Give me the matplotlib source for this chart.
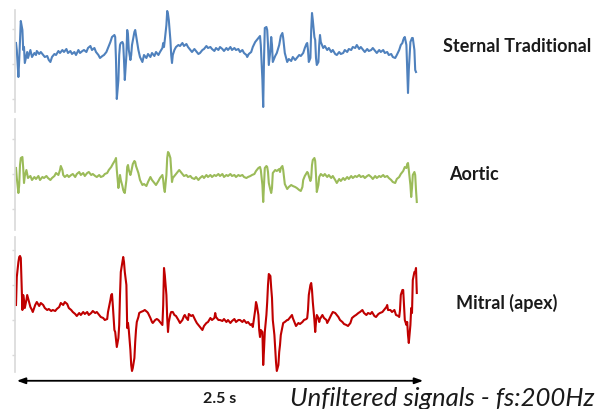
import matplotlib
matplotlib.use("Agg")
import matplotlib.pyplot as plt
import numpy as np

FS = 200  # Hz

# (sample index, amplitude); ticks every 35 units
sternal = [(0,21),(1,14),(3,-13),(4,4),(6,43),(8,34),(9,14),(10,17),(11,1),(14,12),(15,6),(18,14),(20,7),
 (23,11),(25,9),(26,13),(29,10),(31,12),(34,9),(36,7),(39,8),(41,4),(43,2),(45,7),(48,10),(50,9),(53,13),
 (55,11),(58,14),(60,12),(63,15),(65,11),(68,13),(70,10),(73,12),(75,9),(78,14),(80,11),(83,13),(85,14),
 (88,12),(90,16),(93,18),(95,14),(98,16),(100,12),(103,9),(105,6),(108,8),(110,9),(113,12),(115,16),
 (118,22),(120,27),(123,29),(124,27),(125,4),(126,-35),(128,-16),(129,9),(130,19),(131,21),(133,22),
 (134,20),(135,4),(136,-16),(138,9),(139,34),(140,29),(141,14),(143,4),(144,9),(145,19),(148,32),(149,34),
 (150,29),(153,14),(155,7),(158,2),(160,9),(163,6),(165,10),(168,7),(170,11),(173,8),(175,12),(178,9),
 (180,12),(183,16),(184,21),(185,17),(186,24),(188,39),(189,53),(190,50),(191,44),(193,24),(194,9),(195,1),
 (196,9),(198,14),(200,17),(203,19),(205,18),(208,21),(210,18),(213,20),(215,17),(218,14),(220,12),(223,15),
 (225,13),(228,10),(230,11),(233,14),(235,15),(238,18),(240,16),(243,17),(245,15),(248,13),(250,16),(253,14),
 (255,17),(258,15),(260,13),(263,16),(265,14),(268,17),(270,14),(273,16),(275,14),(278,15),(280,12),(283,14),
 (285,11),(288,9),(289,7),(291,10),(294,12),(296,17),(299,22),(301,24),(304,27),(305,28),(306,19),(308,-16),
 (309,-43),(310,4),(311,36),(313,37),(314,34),(315,19),(316,-1),(318,14),(319,27),(320,19),(321,2),(324,8),
 (326,11),(329,19),(331,28),(333,31),(334,26),(336,11),(339,2),(341,5),(344,3),(346,7),(349,4),(351,6),
 (354,9),(356,8),(359,11),(361,16),(363,20),(364,21),(365,14),(366,2),(368,6),(369,34),(370,51),(371,44),
 (373,27),(374,24),(375,6),(376,-1),(378,2),(379,19),(380,29),(381,22),(384,16),(386,18),(389,14),(391,16),
 (394,12),(396,14),(399,10),(401,9),(404,12),(406,10),(409,11),(411,14),(414,12),(416,15),(419,14),(421,17),
 (424,16),(426,19),(429,15),(431,17),(434,14),(436,12),(439,15),(441,13),(444,14),(446,16),(449,13),(451,11),
 (454,14),(456,12),(459,14),(461,11),(464,12),(466,9),(469,10),(471,7),(474,6),(476,9),(479,14),(481,19),
 (483,21),(484,24),(485,26),(486,27),(488,19),(489,-6),(490,-29),(491,-6),(493,22),(494,24),(495,26),
 (496,26),(498,14),(499,-6),(500,-8)]

aortic = [(0,6),(1,-4),(3,-19),(4,-11),(5,9),(6,16),(8,17),(9,6),(10,-9),(11,-2),(13,4),(15,-4),(18,-2),
 (20,-6),(23,-3),(25,-5),(28,-2),(30,-6),(33,-3),(35,-4),(38,-2),(40,-4),(43,-6),(45,-4),(48,-2),(50,1),
 (53,-1),(55,4),(56,8),(58,4),(59,-1),(61,-3),(64,-1),(66,-3),(69,-1),(71,0),(74,-3),(76,0),(79,2),(81,-1),
 (84,1),(86,-2),(89,1),(91,2),(94,-1),(96,0),(99,-2),(101,-3),(104,-1),(106,-3),(109,-2),(111,0),(114,1),
 (116,4),(119,7),(121,10),(124,14),(125,16),(126,4),(128,-14),(129,-8),(130,-1),(131,-6),(133,-12),
 (134,-16),(135,-18),(136,-19),(138,-6),(139,7),(140,9),(141,4),(143,-1),(144,2),(145,6),(146,10),(148,13),
 (149,12),(150,8),(153,1),(155,-6),(158,-11),(160,-10),(163,-12),(165,-8),(168,-3),(170,-6),(173,-9),
 (175,-11),(178,-7),(180,-4),(183,-1),(184,-6),(185,-14),(186,-18),(188,-1),(189,16),(190,22),(191,21),
 (193,16),(194,4),(195,-8),(196,-4),(199,-1),(201,1),(204,4),(205,3),(208,0),(210,-2),(213,-1),(215,-3),
 (218,-2),(220,-4),(223,-5),(225,-3),(228,-6),(230,-4),(233,-2),(235,-4),(238,-1),(240,-3),(243,-1),
 (245,-3),(248,-1),(250,-2),(253,0),(255,-2),(258,0),(260,-3),(263,-1),(265,-2),(268,0),(270,-2),(273,-1),
 (275,-3),(278,-1),(280,-2),(283,-1),(285,-3),(288,-4),(290,-3),(293,-2),(295,-1),(298,0),(300,3),(303,6),
 (305,7),(306,4),(308,-11),(309,-28),(310,-11),(311,6),(313,8),(314,7),(315,2),(316,-9),(318,-16),(319,-19),
 (320,-14),(321,1),(324,4),(326,3),(329,5),(330,2),(331,6),(333,8),(334,4),(335,-3),(336,-10),(339,-15),
 (341,-13),(344,-11),(346,-12),(349,-13),(351,-14),(354,-16),(356,-17),(358,-13),(359,-6),(361,-2),(364,2),
 (365,1),(366,-2),(368,-7),(369,-4),(370,9),(371,14),(373,16),(374,13),(375,-1),(376,-18),(378,-11),
 (379,-3),(381,0),(384,-2),(386,0),(389,-3),(391,-1),(394,-4),(396,-2),(399,-6),(401,-9),(404,-5),(406,-7),
 (409,-4),(411,-6),(414,-3),(416,-5),(419,-2),(421,-4),(424,-2),(426,-3),(429,-1),(431,-3),(434,-2),
 (436,-4),(439,-2),(441,-1),(444,-3),(446,-5),(449,-2),(451,-4),(454,-2),(456,-3),(459,-1),(461,-3),
 (464,-2),(466,-4),(469,-6),(471,-8),(474,-9),(476,-5),(479,-3),(481,0),(484,3),(486,7),(488,6),(489,10),
 (490,11),(491,4),(493,-11),(494,-23),(495,-14),(496,-1),(498,2),(499,-1),(500,-16),(501,-28)]

mitral = [(0,-20),(1,8),(3,23),(4,28),(5,29),(6,27),(8,-25),(9,-10),(10,-15),(11,-23),(13,-15),(14,-10),
 (15,-13),(18,-22),(20,-25),(21,-27),(24,-20),(26,-17),(29,-21),(31,-18),(34,-20),(36,-23),(39,-25),(41,-24),
 (44,-26),(46,-25),(49,-26),(51,-24),(54,-22),(56,-18),(59,-20),(61,-17),(64,-19),(66,-23),(69,-25),(71,-27),
 (74,-29),(76,-31),(79,-28),(81,-30),(84,-27),(86,-29),(89,-27),(91,-30),(94,-28),(96,-26),(99,-28),(101,-27),
 (104,-30),(106,-32),(109,-33),(111,-35),(114,-34),(115,-27),(118,-15),(119,-10),(120,-9),(121,-20),
 (123,-45),(124,-47),(125,-55),(126,-62),(128,-53),(129,-40),(130,-10),(131,13),(133,23),(134,28),(135,23),
 (136,13),(138,0),(139,-43),(140,-38),(141,-45),(143,-65),(144,-80),(145,-86),(146,-83),(148,-73),(149,-57),
 (150,-45),(151,-37),(153,-32),(154,-28),(156,-27),(159,-26),(161,-25),(164,-27),(165,-28),(168,-33),
 (170,-37),(171,-38),(174,-35),(176,-34),(178,-35),(180,-37),(183,-40),(184,-20),(185,17),(186,10),(188,-10),
 (189,-33),(190,-47),(191,-37),(193,-29),(194,-27),(196,-27),(198,-30),(200,-31),(203,-35),(205,-38),
 (208,-35),(210,-31),(211,-30),(213,-33),(215,-35),(216,-29),(219,-31),(221,-30),(224,-35),(226,-38),
 (228,-40),(230,-42),(233,-45),(235,-41),(238,-38),(240,-37),(243,-33),(245,-35),(248,-33),(249,-28),
 (250,-32),(253,-35),(255,-35),(258,-36),(260,-34),(263,-37),(265,-35),(268,-38),(270,-36),(273,-34),
 (275,-37),(278,-35),(280,-35),(283,-37),(285,-35),(288,-38),(290,-37),(293,-40),(295,-39),(296,-42),
 (299,-25),(300,-17),(301,-20),(303,-30),(304,-45),(305,-52),(306,-45),(308,-47),(309,-80),(310,-65),
 (311,-47),(313,-30),(314,-17),(315,0),(316,11),(318,9),(319,-3),(320,-13),(321,-35),(323,-50),(324,-63),
 (325,-77),(326,-86),(328,-80),(329,-67),(330,-60),(331,-50),(334,-38),(336,-37),(339,-35),(340,-35),
 (343,-32),(345,-30),(346,-33),(349,-39),(350,-41),(353,-38),(355,-39),(358,-37),(360,-35),(363,-34),
 (364,-33),(365,-25),(366,-10),(368,0),(369,2),(370,-5),(371,-17),(373,-35),(374,-47),(375,-37),(376,-30),
 (378,-33),(379,-37),(380,-34),(383,-30),(385,-33),(388,-35),(389,-38),(391,-35),(394,-30),(396,-27),
 (399,-28),(401,-30),(403,-32),(405,-35),(408,-37),(410,-39),(413,-40),(415,-41),(418,-38),(420,-33),
 (423,-31),(425,-30),(428,-28),(430,-27),(433,-25),(435,-28),(438,-30),(440,-28),(443,-29),(445,-27),
 (448,-31),(450,-32),(453,-29),(455,-28),(458,-27),(460,-25),(463,-22),(464,-20),(465,-25),(468,-25),
 (470,-27),(473,-25),(475,-30),(478,-31),(479,-32),(480,-25),(481,-10),(483,-5),(484,-5),(485,-20),
 (486,-35),(488,-40),(489,-37),(490,-50),(491,-58),(493,-40),(494,-23),(495,-28),(496,5),(498,13),(499,13),
 (500,17),(501,-8)]

labels = ["Sternal Traditional", "Aortic", "Mitral (apex)"]
colors = ["#4F81BD", "#9BBB59", "#C00000"]
series = [sternal, aortic, mitral]
yticks = [[35, 0, -35], [35, 0, -35], [35, 0, -35, -70]]
ylims = [(-48, 54), (-56, 55), (-87, 48)]
arrow_label = "2.5 s"
footer = "Unfiltered signals - fs:200Hz"
arrow_span = (0.005, 2.545)  # seconds

W, H = 595, 409
fig = plt.figure(figsize=(W / 100, H / 100), dpi=100)
# axes boxes in pixel units (left, top, right, bottom)
boxes = [(15, 10, 420, 112), (15, 119, 420, 230), (15, 237, 420, 372)]
label_pos = [(443, 47), (449, 174), (456, 303)]
label_sizes = [13, 13, 13]

axes = []
for i, (data, col) in enumerate(zip(series, colors)):
    l, t, r, b = boxes[i]
    ax = fig.add_axes([l / W, 1 - b / H, (r - l) / W, (b - t) / H])
    n = np.array([p[0] for p in data])
    v = np.array([p[1] for p in data])
    ax.plot(n / FS, v, color=col, lw=1.5, solid_joinstyle="round")
    ax.set_xlim(-1.25 / FS, 505 / FS)
    ax.set_ylim(*ylims[i])
    ax.set_yticks(yticks[i])
    ax.set_yticklabels([])
    ax.set_xticks([])
    for s in ["top", "right", "bottom"]:
        ax.spines[s].set_visible(False)
    ax.spines["left"].set_color("#D9D9D9")
    ax.spines["left"].set_linewidth(1.2)
    ax.tick_params(axis="y", direction="out", length=2.5, width=1.0, color="#D9D9D9")
    ax.patch.set_alpha(0)
    fig.text(label_pos[i][0] / W, 1 - label_pos[i][1] / H, labels[i],
             family="Lato", weight="bold", fontsize=label_sizes[i], color="#1a1a1a",
             ha="left", va="center")
    axes.append(ax)

axb = axes[-1]
axb.annotate("", xy=(arrow_span[1], -0.065), xytext=(arrow_span[0], -0.065),
             xycoords=("data", "axes fraction"), textcoords=("data", "axes fraction"),
             arrowprops=dict(arrowstyle="<|-|>,head_length=0.5,head_width=0.18",
                             color="black", lw=1.3, shrinkA=0, shrinkB=0),
             annotation_clip=False)
fig.text(220 / W, 1 - 399 / H, arrow_label, family="Lato", weight="bold",
         fontsize=11.5, color="#1a1a1a", ha="center", va="center")
fig.text(290 / W, 1 - 398 / H, footer, family="Lato", style="italic",
         fontsize=18.5, color="#1a1a1a", ha="left", va="center")

fig.savefig("out.png", dpi=100)
